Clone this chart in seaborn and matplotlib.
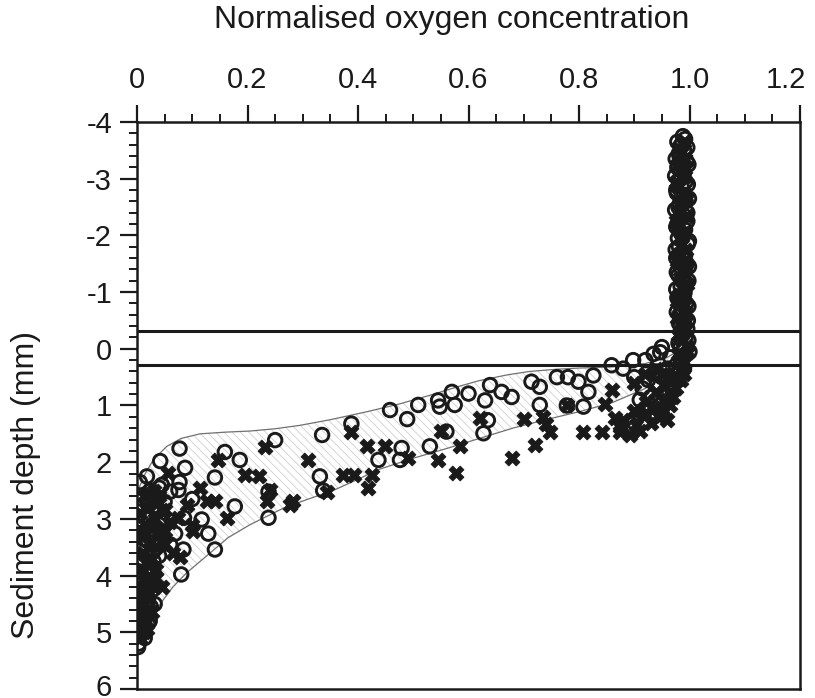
import numpy as np
import pandas as pd
import matplotlib
matplotlib.use("Agg")
import matplotlib.pyplot as plt
import matplotlib.transforms as mtransforms
import seaborn as sns

# ---------------- data ----------------
x_ticks = [0, 0.2, 0.4, 0.6, 0.8, 1.0, 1.2]
x_ticklabels = ["0", "0.2", "0.4", "0.6", "0.8", "1.0", "1.2"]
y_ticks = [-4, -3, -2, -1, 0, 1, 2, 3, 4, 5, 6]
y_ticklabels = ["-4", "-3", "-2", "-1", "0", "1", "2", "3", "4", "5", "6"]
interface_depths = [-0.32, 0.29]

# open circles: (normalised O2, depth mm)
circle_x = [
    # water column
    0.988, 0.992, 0.985, 0.99, 0.982, 0.995, 0.978, 0.99, 0.984, 0.997, 0.976, 0.989, 0.993,
    0.98, 0.996, 0.985, 0.978, 0.992, 0.987, 0.999, 0.981, 0.99, 0.976, 0.995, 0.986, 0.98,
    0.998, 0.984, 0.991, 0.978, 0.994, 0.987, 0.982, 0.997, 0.99, 0.985, 0.993, 0.98, 0.99,
    0.978, 0.996, 0.981, 0.975, 0.998, 0.983, 0.974, 0.993, 0.986, 0.977, 0.999, 0.982, 0.974,
    0.99, 0.996, 0.976, 0.984, 0.979, 0.997, 0.975, 0.992, 0.983, 0.999, 0.977, 0.988, 0.994,
    0.976, 0.99, 0.985, 0.998, 0.977, 0.992, 0.981, 0.996, 0.988, 0.998, 0.984,
    # just below interface
    1.0, 0.99, 0.985, 0.975, 0.965, 0.95, 0.947, 0.935, 0.92, 0.898, 0.88, 0.859, 0.96,
    0.975, 0.95, 0.965, 0.94, 0.955, 0.93, 0.945, 0.92, 0.935, 0.91, 0.9, 0.915,
    0.99, 0.98, 0.97, 0.96, 0.95, 0.985, 0.925, 0.94, 0.91, 0.9,
    # gradient zone
    0.714, 0.729, 0.76, 0.78, 0.799, 0.826, 0.817, 0.808, 0.729, 0.778, 0.639, 0.66, 0.678,
    0.63, 0.635, 0.627, 0.60, 0.57, 0.545, 0.548, 0.575, 0.509, 0.489, 0.458, 0.388, 0.335,
    0.56, 0.53, 0.479, 0.476, 0.437, 0.331, 0.337, 0.25, 0.238, 0.238, 0.159, 0.141, 0.186,
    0.177, 0.117, 0.129, 0.141, 0.084, 0.077, 0.042, 0.087, 0.018, 0.075, 0.077, 0.06, 0.028,
    0.08, 0.032, 0.023, 0.002, 0.03, 0.069, 0.085, 0.05, 0.04, 0.06, 0.03, 0.1, 0.045,
    # anoxic column
    0.005, 0.025, 0.01, 0.035, 0.015, 0.028, 0.004, 0.02, 0.03, 0.01, 0.022, 0.006, 0.018,
    0.012, 0.02, 0.008, 0.015, 0.01, 0.006, 0.003,
    0.04, 0.02, 0.045, 0.012, 0.04, 0.03, 0.028, 0.025, 0.02, 0.014,
]
circle_depth = [
    -3.75, -3.7, -3.6, -3.5, -3.4, -3.3, -3.2, -3.1, -3.0, -2.9, -2.8, -2.7, -2.6,
    -2.5, -2.4, -2.3, -2.2, -2.1, -2.0, -1.9, -1.8, -1.7, -1.6, -1.5, -1.4, -1.3,
    -1.2, -1.1, -1.0, -0.9, -0.8, -0.7, -0.6, -0.5, -0.4, -0.3, -0.2, -0.1, 0.0,
    -3.65, -3.55, -3.45, -3.35, -3.25, -3.15, -3.05, -2.95, -2.85, -2.75, -2.65, -2.55, -2.45,
    -2.35, -2.25, -2.15, -2.05, -1.95, -1.85, -1.75, -1.65, -1.55, -1.45, -1.35, -1.25, -1.15,
    -1.05, -0.95, -0.85, -0.75, -0.65, -0.55, -0.45, -0.35, -0.25, -0.15, -0.05,
    0.05, 0.12, 0.22, 0.3, 0.15, -0.03, 0.06, 0.09, 0.2, 0.2, 0.35, 0.29, 0.35,
    0.45, 0.5, 0.6, 0.65, 0.8, 0.85, 1.0, 1.05, 1.2, 1.15, 0.5, 0.7,
    0.35, 0.55, 0.75, 0.95, 1.15, 0.15, 0.55, 0.4, 0.9, 1.3,
    0.58, 0.67, 0.50, 0.50, 0.58, 0.47, 0.76, 1.02, 0.99, 1.00, 0.64, 0.76, 0.85,
    0.91, 1.26, 1.49, 0.79, 0.76, 0.91, 1.02, 0.99, 0.99, 1.24, 1.08, 1.32, 1.52,
    1.46, 1.72, 1.75, 1.96, 1.96, 2.25, 2.5, 1.61, 2.98, 2.52, 1.82, 2.27, 1.96,
    2.78, 3.01, 3.26, 3.54, 3.54, 1.76, 1.98, 2.1, 2.25, 2.49, 2.35, 2.52, 2.79,
    3.98, 4.5, 4.8, 5.26, 3.35, 3.26, 2.98, 2.7, 3.1, 3.45, 3.75, 2.65, 2.4,
    2.35, 2.5, 2.65, 2.8, 2.95, 3.1, 3.25, 3.4, 3.55, 3.7, 3.85, 4.0, 4.15,
    4.3, 4.45, 4.6, 4.75, 4.9, 5.05, 5.2,
    2.45, 2.75, 3.05, 3.35, 3.65, 3.95, 4.25, 4.55, 4.85, 5.1,
]

# crosses: (normalised O2, depth mm)
cross_x = [
    # water column
    0.99, 0.984, 0.978, 0.992, 0.98, 0.996, 0.983, 0.976, 0.99, 0.986, 0.979, 0.994, 0.982,
    0.988, 0.977, 0.992, 0.985, 0.98, 0.995,
    0.98, 0.992, 0.986, 0.976, 0.99, 0.982, 0.996, 0.979, 0.985, 0.993, 0.977, 0.988, 0.995,
    0.981, 0.99, 0.978, 0.993, 0.986, 0.997,
    # just below interface
    0.99, 0.985, 0.97, 0.975, 0.94, 0.96, 0.922, 0.965, 0.95, 0.945, 0.93, 0.904, 0.91,
    0.892, 0.88, 0.9, 0.92, 0.94, 0.98,
    0.985, 0.97, 0.955, 0.935, 0.92, 0.96, 0.9, 0.875, 0.95, 0.99,
    # gradient zone
    0.70, 0.735, 0.748, 0.72, 0.808, 0.841, 0.859, 0.847, 0.874, 0.865, 0.678, 0.778, 0.62,
    0.74, 0.585, 0.551, 0.545, 0.578, 0.491, 0.388, 0.416, 0.449, 0.31, 0.373, 0.392, 0.425,
    0.419, 0.343, 0.283, 0.232, 0.147, 0.195, 0.22, 0.114, 0.126, 0.141, 0.162, 0.235, 0.241,
    0.277, 0.057, 0.075, 0.051, 0.102, 0.078, 0.04, 0.05, 0.06, 0.045, 0.065, 0.09, 0.1,
    0.035, 0.045,
    # anoxic column
    0.03, 0.012, 0.038, 0.02, 0.005, 0.032, 0.015, 0.04, 0.008, 0.025, 0.035, 0.01, 0.028,
    0.018, 0.004, 0.022, 0.012, 0.03, 0.006, 0.018, 0.01, 0.02, 0.004, 0.014, 0.008, 0.012,
    0.005,
    0.02, 0.045, 0.025, 0.05, 0.02, 0.035, 0.02, 0.028, 0.018,
]
cross_depth = [
    -3.65, -3.45, -3.25, -3.05, -2.85, -2.65, -2.45, -2.25, -2.05, -1.85, -1.65, -1.45, -1.25,
    -1.05, -0.85, -0.65, -0.45, -0.25, -0.05,
    -3.55, -3.35, -3.15, -2.95, -2.75, -2.55, -2.35, -2.15, -1.95, -1.75, -1.55, -1.35, -1.15,
    -0.95, -0.75, -0.55, -0.35, -0.15, 0.05,
    0.25, 0.4, 0.53, 0.7, 0.76, 0.9, 0.94, 1.0, 1.1, 1.2, 1.3, 1.35, 1.45,
    1.52, 1.25, 0.6, 0.45, 0.35, 0.1,
    0.55, 0.85, 0.65, 1.05, 1.15, 1.25, 1.1, 1.38, 0.45, 0.45,
    1.23, 1.20, 1.46, 1.70, 1.46, 1.46, 0.72, 0.98, 1.46, 1.22, 1.93, 1.00, 1.22,
    1.32, 1.72, 1.45, 1.96, 2.19, 1.93, 1.46, 1.72, 1.72, 1.96, 2.22, 2.22, 2.22,
    2.46, 2.52, 2.69, 1.73, 1.96, 2.22, 2.25, 2.46, 2.69, 2.69, 2.98, 2.69, 2.49,
    2.75, 2.19, 2.98, 3.22, 3.22, 3.68, 2.6, 2.85, 3.05, 3.4, 3.6, 2.75, 3.1,
    3.9, 4.2,
    2.5, 2.6, 2.7, 2.8, 2.9, 3.0, 3.1, 3.2, 3.3, 3.4, 3.5, 3.6, 3.7,
    3.8, 3.9, 4.0, 4.1, 4.2, 4.3, 4.4, 4.5, 4.6, 4.7, 4.8, 4.9, 5.0,
    5.1,
    2.55, 2.85, 3.15, 3.45, 3.75, 4.05, 4.35, 4.65, 4.95,
]

# envelope curves
upper_x = [0.0, 0.006, 0.015, 0.03, 0.054, 0.08, 0.114, 0.16, 0.205, 0.25, 0.295, 0.35, 0.416,
           0.476, 0.53, 0.58, 0.62, 0.67, 0.71, 0.76, 0.80, 0.86, 0.92, 0.96, 0.985, 1.0]
upper_depth = [2.55, 2.4, 2.2, 1.95, 1.72, 1.58, 1.5, 1.47, 1.45, 1.41, 1.35, 1.25, 1.11,
               0.97, 0.82, 0.67, 0.56, 0.46, 0.40, 0.36, 0.34, 0.32, 0.26, 0.15, 0.0, -0.3]
lower_x = [0.0, 0.02, 0.042, 0.065, 0.09, 0.13, 0.165, 0.205, 0.265, 0.31, 0.355, 0.40, 0.44,
           0.50, 0.56, 0.62, 0.68, 0.74, 0.80, 0.86, 0.92, 0.96, 0.985, 1.0]
lower_depth = [5.25, 4.9, 4.5, 4.2, 3.95, 3.62, 3.33, 3.1, 2.81, 2.65, 2.5, 2.3, 2.12,
               1.93, 1.76, 1.58, 1.4, 1.25, 1.11, 0.95, 0.7, 0.4, 0.1, -0.3]

circles = pd.DataFrame({"oxygen": circle_x, "depth": circle_depth})
crosses = pd.DataFrame({"oxygen": cross_x, "depth": cross_depth})
upper = pd.DataFrame({"oxygen": upper_x, "depth": upper_depth})
lower = pd.DataFrame({"oxygen": lower_x, "depth": lower_depth})

# ---------------- style ----------------
sns.set_theme(style="white")
plt.rcParams["font.family"] = ["Liberation Sans", "DejaVu Sans"]
plt.rcParams["hatch.linewidth"] = 0.6
plt.rcParams["hatch.color"] = "#cfcfcf"

INK = "#1a1a1a"

fig = plt.figure(figsize=(8.15, 6.98), dpi=100)
ax = fig.add_axes([137 / 815, 1 - 689 / 698, 663 / 815, 567 / 698])

# hatched envelope
poly_x = list(upper_x) + list(lower_x[::-1])
poly_y = list(upper_depth) + list(lower_depth[::-1])
ax.fill(poly_x, poly_y, facecolor="none", edgecolor="#cfcfcf", hatch=r"\\\\",
        linewidth=0, zorder=1)

sns.lineplot(data=upper, x="oxygen", y="depth", sort=False, estimator=None,
             color="#707070", linewidth=0.9, ax=ax, zorder=2)
sns.lineplot(data=lower, x="oxygen", y="depth", sort=False, estimator=None,
             color="#707070", linewidth=0.9, ax=ax, zorder=2)

for d in interface_depths:
    ax.axhline(d, color=INK, linewidth=2.2, zorder=3)

sns.scatterplot(data=crosses, x="oxygen", y="depth", marker="X", s=115,
                color=INK, edgecolor=INK, linewidth=0.6, ax=ax, zorder=4)
sns.scatterplot(data=circles, x="oxygen", y="depth", marker="o", s=95,
                facecolor="none", edgecolor=INK, linewidth=2.1, ax=ax, zorder=5)

ax.set_xlim(0, 1.2)
ax.set_ylim(6, -4)

ax.xaxis.tick_top()
ax.xaxis.set_label_position("top")
ax.set_xticks(x_ticks)
ax.set_xticklabels(x_ticklabels)
ax.set_yticks(y_ticks)
ax.set_yticklabels(y_ticklabels)
ax.set_xticks(np.arange(0, 1.2001, 0.05), minor=True)
ax.set_yticks(np.arange(-4, 6.001, 0.2), minor=True)

ax.tick_params(axis="both", which="major", direction="out", length=12, width=1.6,
               labelsize=21, color=INK, labelcolor=INK)
ax.tick_params(axis="both", which="minor", direction="out", length=6, width=1.4,
               color=INK)
ax.tick_params(axis="x", which="both", top=True, bottom=False, pad=8)
ax.tick_params(axis="y", which="both", left=True, right=False, pad=6)

# keep edge tick labels inside the figure, as in the reference
last = ax.get_xticklabels()[-1]
last.set_transform(last.get_transform() +
                   mtransforms.ScaledTranslation(-10 / 72, 0, fig.dpi_scale_trans))
bottom_lab = ax.get_yticklabels()[-1]
bottom_lab.set_transform(bottom_lab.get_transform() +
                         mtransforms.ScaledTranslation(0, 3 / 72, fig.dpi_scale_trans))

ax.set_xlabel("Normalised oxygen concentration", fontsize=23, color=INK)
ax.set_ylabel("Sediment depth (mm)", fontsize=23, color=INK)
ax.xaxis.set_label_coords(0.474, 1.165)
ax.yaxis.set_label_coords(-0.145, 0.36)

for sp in ax.spines.values():
    sp.set_visible(True)
    sp.set_color(INK)
    sp.set_linewidth(1.8)

fig.savefig("out.png", dpi=100, facecolor="white")
